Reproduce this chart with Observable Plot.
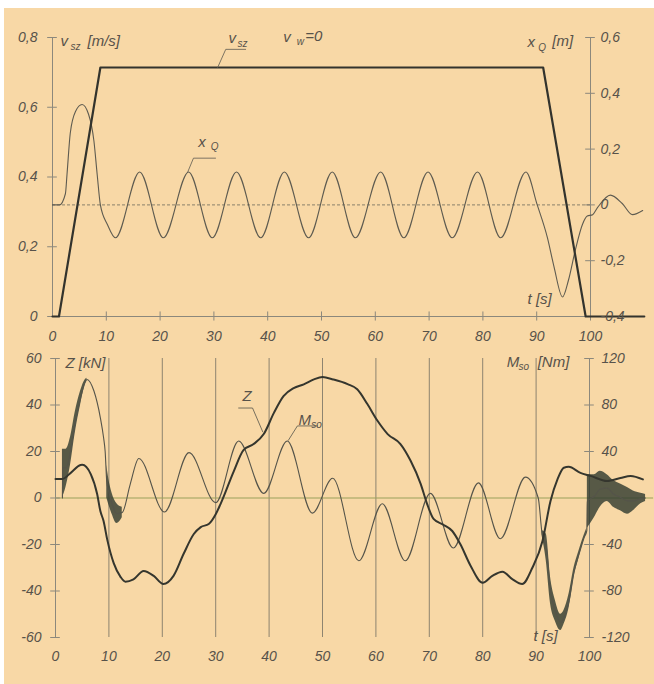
<!DOCTYPE html>
<html><head><meta charset="utf-8">
<script src="https://cdn.jsdelivr.net/npm/d3@7"></script>
<script src="https://cdn.jsdelivr.net/npm/@observablehq/plot@0.6"></script>
<style>
html,body{margin:0;padding:0;background:#fff;}
#page{position:absolute;left:4px;top:8px;width:650px;height:676px;background:#f8d8a6;}
#topPanel,#bottomPanel{position:absolute;left:0;}
#topPanel{top:0}#bottomPanel{top:345px}
</style></head><body>
<div id="page"></div>
<div id="topPanel"></div><div id="bottomPanel"></div>
<script>
// ---------- data: top panel ----------
const vszT = [0, 1.2, 8.9, 91.2, 99.1, 110];
const vszV = [0, 0, 0.714, 0.714, 0, 0];              // m/s

const xqT = [0, 1.3, 2.4, 2.7, 3.3, 4.3, 5.5, 6.7, 7.7, 8.3, 8.9, 10.2, 11.7, 16.2, 20.6, 25.3, 29.7, 34.2, 38.7, 43.1, 47.6, 52, 56.3, 61, 65.3, 69.8, 74.3, 79, 83.3, 88, 90.1, 92, 93.2, 94.8, 95.9, 97.2, 98.5, 99.4, 100.4, 101.3, 103.7, 105.9, 107.8, 109.7];
const xqV = [0, 0, 0.04, 0.11, 0.257, 0.336, 0.36, 0.325, 0.229, 0.11, 0.0, -0.07, -0.118, 0.118, -0.118, 0.118, -0.118, 0.118, -0.118, 0.118, -0.118, 0.118, -0.118, 0.118, -0.118, 0.118, -0.118, 0.118, -0.118, 0.118, 0.0, -0.118, -0.22, -0.33, -0.27, -0.16, -0.07, -0.04, -0.035, -0.01, 0.035, 0.005, -0.035, -0.02]; // m

// ---------- data: bottom panel ----------
const zT = [0, 1.3, 2.8, 4.7, 5.0, 6.6, 7.8, 8.4, 9.0, 9.7, 10.9, 12.2, 13.1, 14.6, 16.5, 18.4, 20.2, 22.1, 24, 25.9, 27.2, 28.7, 30, 30.9, 33.4, 35.2, 37.1, 39, 40.9, 42.7, 44.6, 46.5, 48.4, 50, 52, 54.7, 56.5, 58.4, 60.3, 62.2, 64.6, 66.5, 68.4, 69.6, 70.8, 72.7, 74.3, 75.8, 77.7, 80, 81.8, 83.7, 85.6, 87.4, 89.3, 91.2, 92.7, 94, 95.2, 96.1, 98.3, 100.2, 103.3, 105.8, 107.7, 110];
const zV = [8.2, 8.2, 10.7, 14.2, 14.3, 10.3, 1.7, -5.6, -9.9, -18, -28, -34, -36, -35, -31.4, -33.5, -37, -33.5, -24, -15.5, -12.5, -11.2, -7, -2.6, 11.6, 20.6, 23.2, 27.5, 36.6, 43.8, 47.3, 48.9, 51, 52, 51, 49, 46.8, 40.4, 33.2, 27.5, 23.2, 16, 6, -2.6, -9, -11.6, -14.2, -19.8, -29, -36.5, -33.5, -31.7, -35, -37, -30, -18.5, -1.3, 8, 13, 13.4, 10.8, 9.5, 7.3, 8.6, 9.5, 8]; // kN

const mT = [1.3, 1.35, 2.0, 2.8, 3.7, 4.7, 5.6, 5.9, 7.2, 8.4, 9.0, 9.3, 9.6, 10, 10.6, 11.5, 12.5, 14, 15.6, 20.4, 25, 30, 34.3, 39, 43.4, 48.1, 51.9, 56.8, 61.2, 65.5, 70.2, 74.5, 79.2, 83.3, 88, 90.4, 91.1, 91.9, 92.7, 93.6, 94.6, 95.2, 96.2, 97.1, 98, 99, 99.5, 99.6, 100.9, 102, 103.3, 104.5, 105.8, 107.1, 108.2, 109.6, 110.5];
const mV = [0, 26, 26, 40, 65, 86, 100, 102, 92, 69, 52, 40, 14, 5, -5, -13.5, -12.5, 12, 34, -12, 39, -4, 49, 4, 49, -13, 17, -54, -5, -54, 4, -43, 13, -35, 18, 0, -30, -42, -80, -97, -107, -103, -88, -64, -49, -34, -28, -3, 1.5, 7.5, 8.5, 3.5, 0.5, -2.5, -2.5, -0.5, 0]; // Nm

// noisy (oscillating) stretches of M_so: envelope, Nm
const nSeg = ["A","A","A","A","A","A","A", "B","B","B","B","B", "C","C","C","C","C","C","C","C","C","C","C", "D","D","D","D","D","D","D","D","D","D"];
const nT  = [1.3, 2.0, 2.8, 3.7, 4.7, 5.6, 5.9,  9.6, 10, 10.6, 11.5, 12.5,  91.1, 91.9, 92.7, 93.6, 94.6, 95.2, 96.2, 97.1, 98, 99, 99.5,  99.6, 100.9, 102, 103.3, 104.5, 105.8, 107.1, 108.2, 109.6, 110.5];
const nLo = [0, 10, 28, 56, 80, 98, 101,  0, -6, -14, -22, -17,  -32, -54, -91, -106, -114, -109, -94, -68, -52, -36, -30,  -26, -17, -8, -3, -8, -11, -14, -11, -5, -3];
const nHi = [42, 42, 52, 74, 92, 102, 103,  28, 16, 4, -5, -8,  -28, -31, -68, -88, -100, -97, -82, -60, -46, -32, -26,  20, 20, 23, 20, 15, 12, 9, 6, 4, 3];

// ---------- ticks ----------
const tTicks = [0, 10, 20, 30, 40, 50, 60, 70, 80, 90, 100];
const vTicks = [0, 0.2, 0.4, 0.6, 0.8];
const xqTicks = [-0.4, -0.2, 0, 0.2, 0.4, 0.6];
const zTicks = [-60, -40, -20, 0, 20, 40, 60];
const mTicks = [-120, -80, -40, 40, 80, 120];
const gridT = [10, 20, 30, 40, 50, 60, 70, 80, 90];

// ---------- build tables ----------
const xq2v = m => (m + 0.4) * 0.8;   // right axis (m) -> left axis (m/s)
const m2z = m => m / 2;              // right axis (Nm) -> left axis (kN)
const comma = v => String(+(+v).toFixed(2)).replace(".", ",");

const vsz = vszT.map((t, i) => ({t, v: vszV[i]}));
const xq = xqT.map((t, i) => ({t, v: xq2v(xqV[i])}));
const Z = zT.map((t, i) => ({t, v: zV[i]}));
const M = mT.map((t, i) => ({t, v: m2z(mV[i])}));
const noise = nT.map((t, i) => ({t, seg: nSeg[i], lo: m2z(nLo[i]), hi: m2z(nHi[i])}));

// annotations (data coordinates)
const topText = [
  {t: 1.49, v: 0.789, s: "v", f: 15}, {t: 3.35, v: 0.774, s: "sz", f: 10}, {t: 6.5, v: 0.789, s: "[m/s]", f: 15},
  {t: 32.7, v: 0.797, s: "v", f: 15}, {t: 34.4, v: 0.783, s: "sz", f: 10},
  {t: 42.9, v: 0.800, s: "v", f: 15}, {t: 45.4, v: 0.789, s: "w", f: 10}, {t: 47.0, v: 0.803, s: "=0", f: 15},
  {t: 27.1, v: 0.500, s: "x", f: 15}, {t: 29.4, v: 0.486, s: "Q", f: 10},
  {t: 88.3, v: 0.786, s: "x", f: 15}, {t: 90.3, v: 0.771, s: "Q", f: 10}, {t: 92.9, v: 0.789, s: "[m]", f: 15},
  {t: 88.3, v: 0.049, s: "t [s]", f: 15}
];
const topLeaders = [
  {id: 1, t: 35.9, v: 0.766}, {id: 1, t: 32.2, v: 0.766}, {id: 1, t: 30.7, v: 0.714},
  {id: 2, t: 30.3, v: 0.454}, {id: 2, t: 26.2, v: 0.454}, {id: 2, t: 25.1, v: 0.413}
];
const botText = [
  {t: 1.87, v: 58.1, s: "Z [kN]", f: 15},
  {t: 84.5, v: 58.5, s: "M", f: 15}, {t: 86.7, v: 56.3, s: "so", f: 10}, {t: 90.3, v: 58.5, s: "[Nm]", f: 15},
  {t: 35.0, v: 43.9, s: "Z", f: 15},
  {t: 45.5, v: 33.5, s: "M", f: 15}, {t: 47.9, v: 31.4, s: "so", f: 10},
  {t: 89.5, v: -59.4, s: "t [s]", f: 15}
];
const botLeaders = [
  {id: 1, t: 34.3, v: 38.7}, {id: 1, t: 36.9, v: 38.7}, {id: 1, t: 38.8, v: 28.5},
  {id: 2, t: 49.1, v: 31}, {id: 2, t: 45.3, v: 31}, {id: 2, t: 43.6, v: 24.8}
];

const C = {axis: "#8c887c", txt: "#57524a", vsz: "#33332d", xq: "#5e5b50", Z: "#35362e", M: "#55544a", grid: "#726e62", zero: "#9aa05a", noise: "#2e392e"};
const style = {background: "transparent", fontFamily: "'Liberation Sans', Arial, sans-serif", fontStyle: "italic", fontSize: "14px", color: C.txt, overflow: "visible"};

const big = d => d.filter(a => a.f > 12), small = d => d.filter(a => a.f <= 12);

const topPlot = Plot.plot({
  width: 654, height: 345, marginLeft: 52, marginRight: 64, marginTop: 37, marginBottom: 29,
  x: {domain: [0, 100]}, y: {domain: [0, 0.8]}, style,
  marks: [
    Plot.ruleY([0], {x1: 0, x2: 110, stroke: C.axis, strokeWidth: 1}),
    Plot.ruleX([0, 100], {y1: 0, y2: 0.8, stroke: C.axis, strokeWidth: 1}),
    Plot.ruleY(vTicks, {x1: -0.9, x2: 0.9, stroke: C.axis}),
    Plot.ruleY(xqTicks.map(xq2v), {x1: 99.1, x2: 100.9, stroke: C.axis}),
    Plot.ruleX(tTicks.slice(1), {y1: -0.013, y2: 0.013, stroke: C.axis}),
    Plot.ruleY([xq2v(0)], {x1: 0, x2: 100, stroke: "#6f6b5c", strokeWidth: 0.8, strokeDasharray: "3,2"}),
    Plot.line(xq, {x: "t", y: "v", curve: "monotone-x", stroke: C.xq, strokeWidth: 1.1}),
    Plot.line(vsz, {x: "t", y: "v", stroke: C.vsz, strokeWidth: 2.2}),
    Plot.line(topLeaders, {x: "t", y: "v", z: "id", stroke: C.xq, strokeWidth: 0.8}),
    Plot.text(big(topText), {x: "t", y: "v", text: "s", textAnchor: "start", fontSize: 15}),
    Plot.text(small(topText), {x: "t", y: "v", text: "s", textAnchor: "start", fontSize: 10}),
    Plot.axisY({anchor: "left", ticks: vTicks, tickSize: 0, tickPadding: 15, tickFormat: comma, label: null}),
    Plot.axisY({anchor: "right", ticks: xqTicks.map(xq2v), tickSize: 0, tickPadding: 10, tickFormat: d => comma(d / 0.8 - 0.4), label: null}),
    Plot.axisX({anchor: "bottom", ticks: tTicks, tickSize: 0, tickPadding: 15, tickFormat: d => String(d), label: null})
  ]
});
document.getElementById("topPanel").append(topPlot);

const bottomPlot = Plot.plot({
  width: 654, height: 339, marginLeft: 55, marginRight: 65, marginTop: 13, marginBottom: 47,
  x: {domain: [0, 100]}, y: {domain: [-60, 60]}, style,
  marks: [
    Plot.ruleX(gridT, {y1: -60, y2: 60, stroke: C.grid, strokeWidth: 0.8}),
    Plot.ruleX([0, 100], {y1: -60, y2: 60, stroke: C.axis, strokeWidth: 1}),
    Plot.ruleY([0], {x1: 0, x2: 112, stroke: C.zero, strokeWidth: 1}),
    Plot.ruleY(zTicks, {x1: -0.9, x2: 0.9, stroke: C.axis}),
    Plot.ruleY(mTicks.map(m2z), {x1: 99.1, x2: 100.9, stroke: C.axis}),
    Plot.areaY(noise, {x: "t", y1: "lo", y2: "hi", z: "seg", curve: "monotone-x", fill: C.noise, fillOpacity: 0.8}),
    Plot.line(M, {x: "t", y: "v", curve: "monotone-x", stroke: C.M, strokeWidth: 1.1}),
    Plot.line(Z, {x: "t", y: "v", curve: "monotone-x", stroke: C.Z, strokeWidth: 2}),
    Plot.line(botLeaders, {x: "t", y: "v", z: "id", stroke: C.M, strokeWidth: 0.8}),
    Plot.text(big(botText), {x: "t", y: "v", text: "s", textAnchor: "start", fontSize: 15}),
    Plot.text(small(botText), {x: "t", y: "v", text: "s", textAnchor: "start", fontSize: 10}),
    Plot.axisY({anchor: "left", ticks: zTicks, tickSize: 0, tickPadding: 14, tickFormat: d => String(d), label: null}),
    Plot.axisY({anchor: "right", ticks: mTicks.map(m2z), tickSize: 0, tickPadding: 12, tickFormat: d => String(d * 2), label: null}),
    Plot.axisX({anchor: "bottom", ticks: tTicks, tickSize: 0, tickPadding: 14, tickFormat: d => String(d), label: null})
  ]
});
document.getElementById("bottomPanel").append(bottomPlot);
</script>
</body></html>
